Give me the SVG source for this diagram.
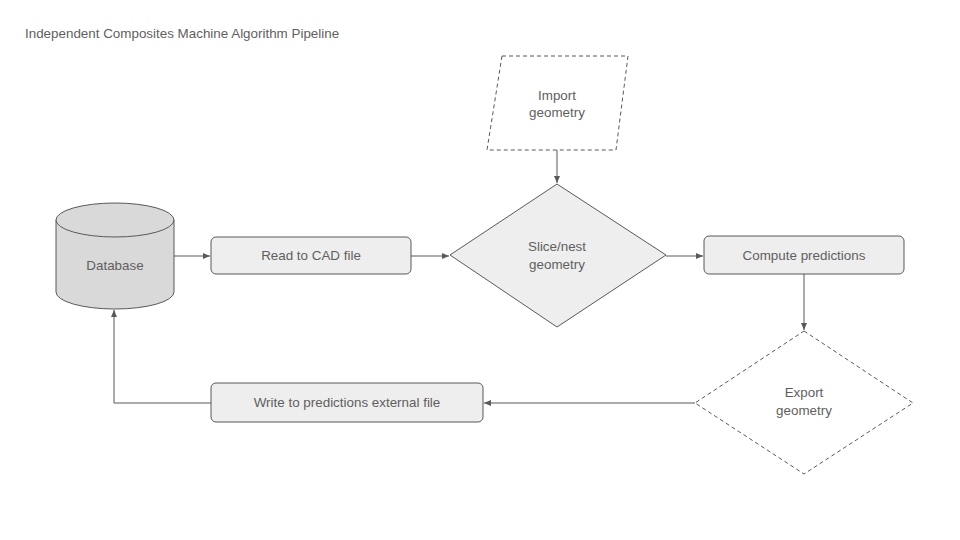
<svg xmlns="http://www.w3.org/2000/svg" width="960" height="540" viewBox="0 0 960 540">
<defs>
<style>
text{font-family:"Liberation Sans",Arial,sans-serif;font-size:13.4px;fill:#5f5f5f;text-anchor:middle}
.box{fill:#eeeeee;stroke:#595959;stroke-width:1}
.dash{fill:#ffffff;stroke:#595959;stroke-width:1;stroke-dasharray:4,3}
.conn{fill:none;stroke:#595959;stroke-width:1}
</style>
<marker id="ah" markerWidth="8" markerHeight="6" refX="7" refY="3" orient="auto" markerUnits="userSpaceOnUse">
<path d="M0,0 L7,3 L0,6 Z" fill="#595959"/>
</marker>
</defs>
<rect width="960" height="540" fill="#ffffff"/>
<text x="25" y="38" style="text-anchor:start">Independent Composites Machine Algorithm Pipeline</text>
<g id="connectors">
<path class="conn" d="M174,256 L210,256" marker-end="url(#ah)"/>
<path class="conn" d="M411,256 L449,256" marker-end="url(#ah)"/>
<path class="conn" d="M557,150 L557,183" marker-end="url(#ah)"/>
<path class="conn" d="M666,256 L703,256" marker-end="url(#ah)"/>
<path class="conn" d="M804,274 L804,330" marker-end="url(#ah)"/>
<path class="conn" d="M695,403 L484,403" marker-end="url(#ah)"/>
<path class="conn" d="M211,403 L114,403 L114,310" marker-end="url(#ah)"/>
</g>
<g id="database">
<path d="M56,220 L56,292 A59,17 0 0 0 174,292 L174,220" fill="#d9d9d9" stroke="#595959"/>
<ellipse cx="115" cy="220" rx="59" ry="17" fill="#d9d9d9" stroke="#595959"/>
<text x="115" y="270">Database</text>
</g>
<g id="read-cad">
<rect class="box" x="211" y="237" width="200" height="37" rx="5"/>
<text x="311" y="260">Read to CAD file</text>
</g>
<g id="import-geometry">
<polygon class="dash" points="502,56 628,56 616,150 487,150"/>
<text x="557" y="100">Import</text>
<text x="557" y="117">geometry</text>
</g>
<g id="slice-nest">
<polygon class="box" points="557,184 666,255 557,327 450,255"/>
<text x="557" y="251">Slice/nest</text>
<text x="557" y="269">geometry</text>
</g>
<g id="compute">
<rect class="box" x="704" y="236" width="200" height="38" rx="5"/>
<text x="804" y="260">Compute predictions</text>
</g>
<g id="export-geometry">
<polygon class="dash" points="804,331 913,403 804,474 695,403"/>
<text x="804" y="397">Export</text>
<text x="804" y="415">geometry</text>
</g>
<g id="write-predictions">
<rect class="box" x="211" y="383" width="272" height="39" rx="5"/>
<text x="347" y="407">Write to predictions external file</text>
</g>
</svg>
